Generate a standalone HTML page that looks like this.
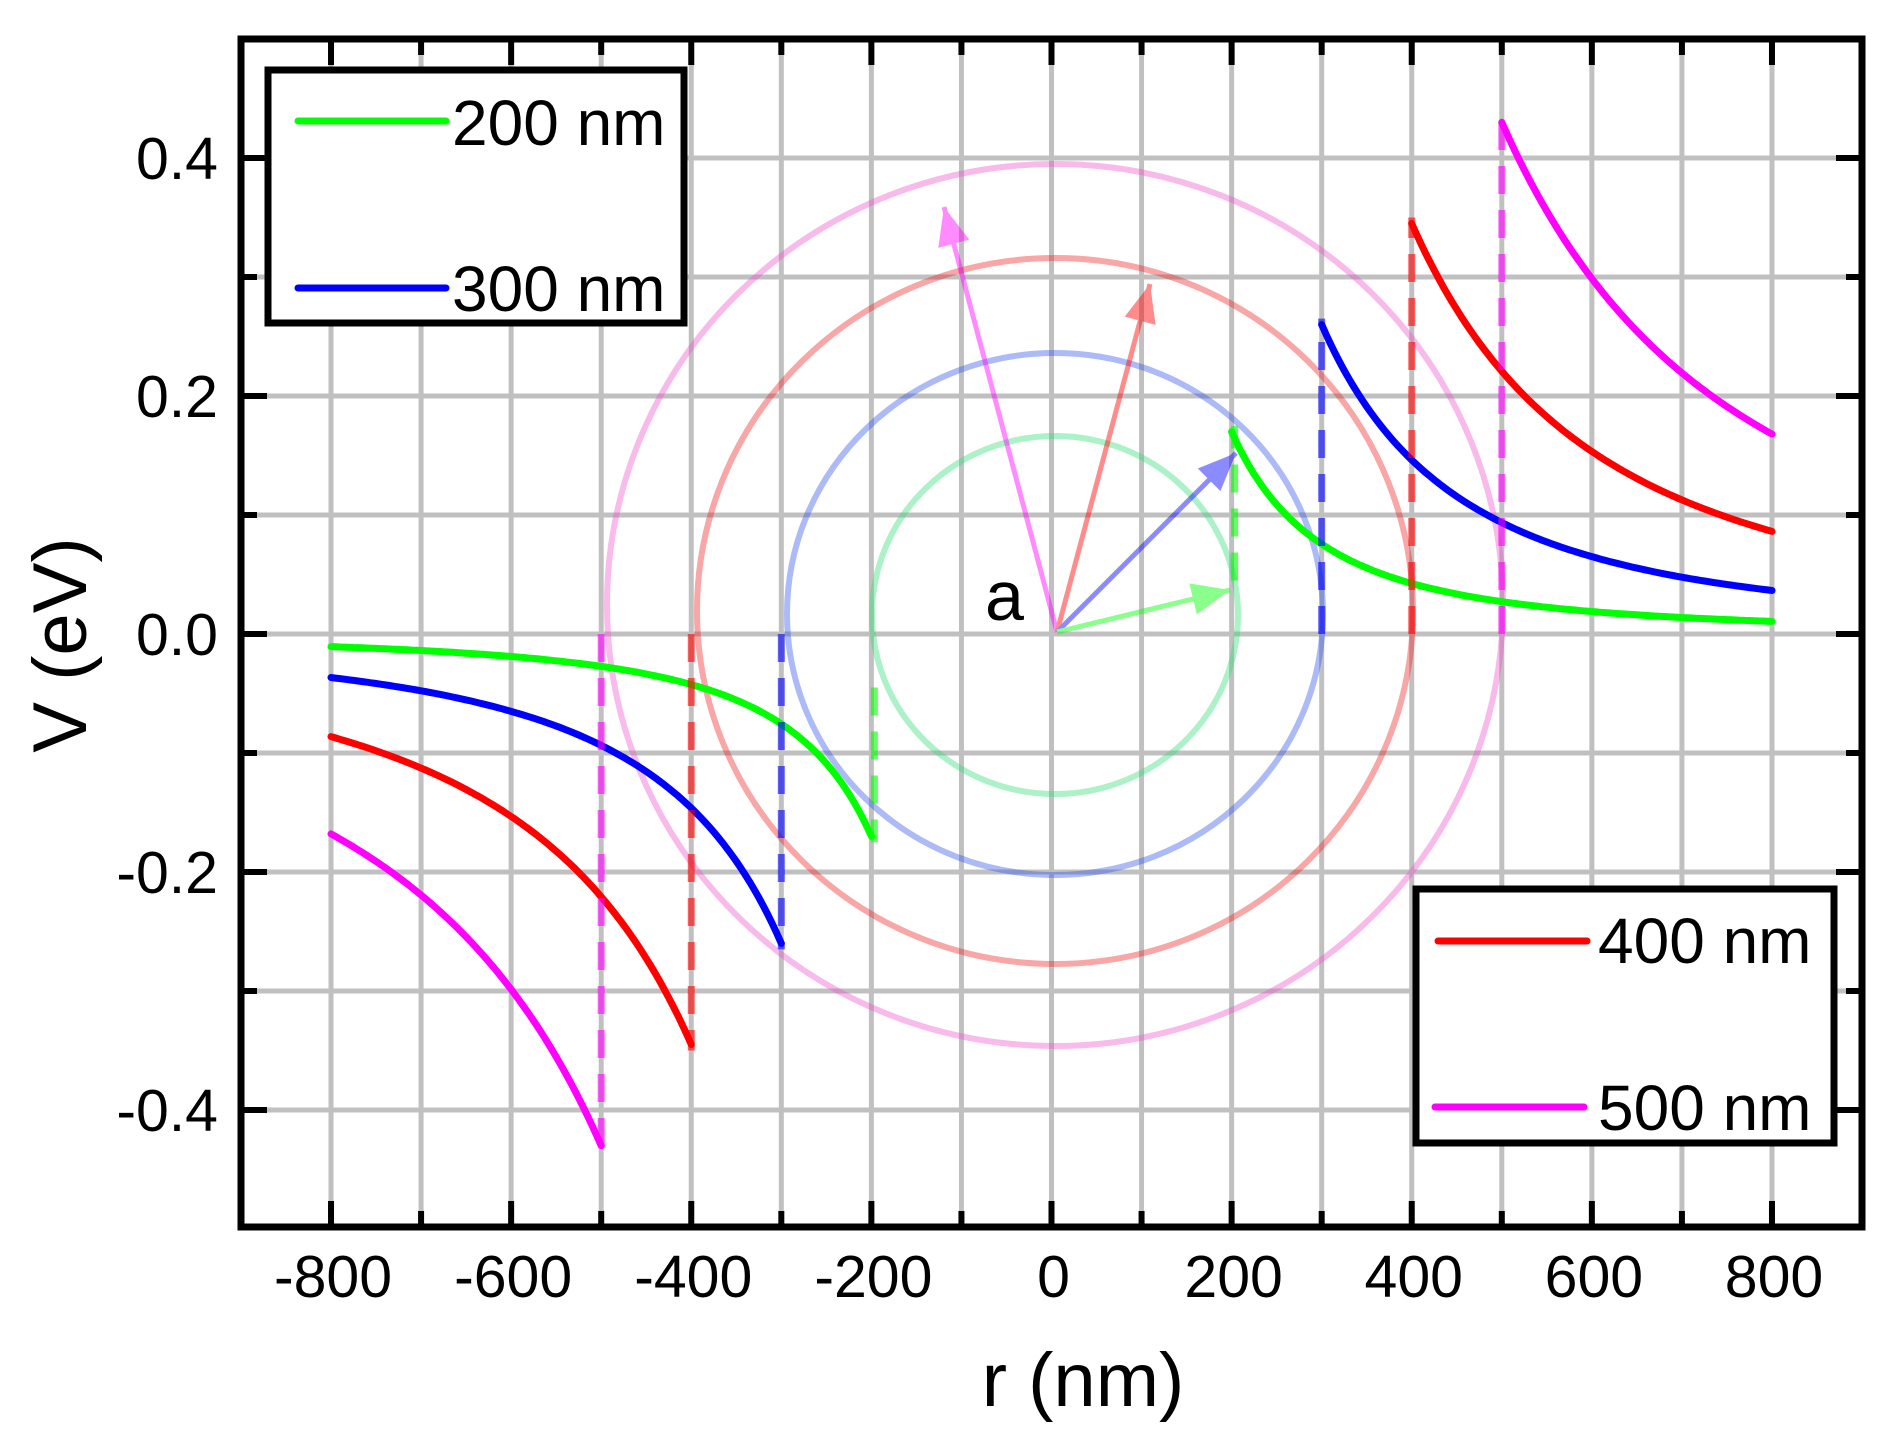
<!DOCTYPE html>
<html><head><meta charset="utf-8"><style>
html,body{margin:0;padding:0;background:#fff;}
svg{display:block;font-family:"Liberation Sans",sans-serif;}
</style></head><body>
<svg id="s" width="1899" height="1443" viewBox="0 0 1899 1443" xmlns="http://www.w3.org/2000/svg">
<rect width="1899" height="1443" fill="#fff"/>
<g id="grid"></g>
<g id="circ" fill="none" stroke-width="6" opacity="0.4">
<ellipse cx="1055" cy="615" rx="183" ry="179" stroke="#33dd77"/>
<ellipse cx="1055" cy="614" rx="268" ry="261" stroke="#3355ee"/>
<ellipse cx="1055" cy="611" rx="358" ry="353" stroke="#ee2222"/>
<ellipse cx="1055" cy="605" rx="448" ry="441" stroke="#ee55cc"/>
</g>
<g id="arrows" stroke-width="5" fill="none" opacity="0.45"></g>
<g id="series"></g>
<text x="985" y="620" font-size="70">a</text>
<g id="axes"></g>
<g id="leg">
<rect x="268" y="70" width="416" height="253" fill="#fff" stroke="#000" stroke-width="7"/>
<line x1="298" y1="121" x2="446" y2="121" stroke="#00ff00" stroke-width="7" stroke-linecap="round"/>
<line x1="298" y1="288" x2="446" y2="288" stroke="#0000ff" stroke-width="7" stroke-linecap="round"/>
<text x="452" y="145" font-size="64">200 nm</text>
<text x="452" y="311" font-size="64">300 nm</text>
<rect x="1416" y="889" width="418" height="254" fill="#fff" stroke="#000" stroke-width="7"/>
<line x1="1438" y1="941" x2="1587" y2="941" stroke="#ff0000" stroke-width="7" stroke-linecap="round"/>
<line x1="1435" y1="1107" x2="1584" y2="1107" stroke="#ff00ff" stroke-width="7" stroke-linecap="round"/>
<text x="1598" y="963" font-size="64">400 nm</text>
<text x="1598" y="1130" font-size="64">500 nm</text>
</g>
<text x="1083" y="1406" font-size="76" text-anchor="middle">r (nm)</text>
<text transform="translate(86,645) rotate(-90)" font-size="76" text-anchor="middle">V (eV)</text>
</svg>
<script>
var NS="http://www.w3.org/2000/svg";
function X(r){return 1051.5+r*0.9006;}
function Y(v){return 634-v*1190;}
function el(p,t,a,txt){var e=document.createElementNS(NS,t);for(var k in a)e.setAttribute(k,a[k]);if(txt)e.textContent=txt;document.getElementById(p).appendChild(e);return e;}
var L=241,R=1862,T=39,B=1227;
for(var r=-800;r<=800;r+=100){el("grid","line",{x1:X(r),y1:T,x2:X(r),y2:B,stroke:"#c0c0c0","stroke-width":5});}
for(var v=-0.4;v<=0.41;v+=0.1){el("grid","line",{x1:L,y1:Y(v),x2:R,y2:Y(v),stroke:"#c0c0c0","stroke-width":5});}
var O=[1057,632];
var arr=[[944,207,"#ff00ff"],[1150,284,"#ff0000"],[1236,453,"#0000ff"],[1230,590,"#00ff00"]];
arr.forEach(function(a){
 el("arrows","line",{x1:O[0],y1:O[1],x2:a[0],y2:a[1],stroke:a[2]});
 var dx=a[0]-O[0],dy=a[1]-O[1],l=Math.hypot(dx,dy);dx/=l;dy/=l;
 var bx=a[0]-dx*38,by=a[1]-dy*38,px=-dy,py=dx;
 el("arrows","polygon",{points:a[0]+","+a[1]+" "+(bx+px*16)+","+(by+py*16)+" "+(bx-px*16)+","+(by-py*16),fill:a[2],stroke:"none"});
});
var S=[[200,6800,"#00ff00"],[300,23400,"#0000ff"],[400,55200,"#ff0000"],[500,107500,"#ff00ff"]];
S.forEach(function(s){
 var a=s[0],k=s[1],c=s[2];
 [1,-1].forEach(function(sg){
  var d="";
  for(var r=a;r<=800;r+=5){d+=(r==a?"M":"L")+X(sg*r).toFixed(1)+","+Y(sg*k/r/r).toFixed(1);}
  el("series","path",{d:d,fill:"none",stroke:c,"stroke-width":7,"stroke-linecap":"round"});
  var top=sg*(k/a/a+0.005), bot=(a==200?sg*0.045:0);
  var xo=(a==200?3:0);
  el("series","line",{x1:X(sg*a)+xo,y1:Y(bot),x2:X(sg*a)+xo,y2:Y(top),stroke:c,"stroke-width":7,"stroke-dasharray":"28,16",opacity:0.6});
 });
});
el("axes","rect",{x:L,y:T,width:R-L,height:B-T,fill:"none",stroke:"#000","stroke-width":7});
for(var r=-800;r<=800;r+=100){var len=(r%200==0)?26:16;
 el("axes","line",{x1:X(r),y1:B,x2:X(r),y2:B-len,stroke:"#000","stroke-width":6});
 el("axes","line",{x1:X(r),y1:T,x2:X(r),y2:T+len,stroke:"#000","stroke-width":6});
 if(r%200==0)el("axes","text",{x:X(r)+2,y:1297,"font-size":59,"text-anchor":"middle"},String(r));}
for(var i=-4;i<=4;i++){var v=i/10,len=(i%2==0)?26:16;
 el("axes","line",{x1:L,y1:Y(v),x2:L+len,y2:Y(v),stroke:"#000","stroke-width":6});
 el("axes","line",{x1:R,y1:Y(v),x2:R-len,y2:Y(v),stroke:"#000","stroke-width":6});
 if(i%2==0)el("axes","text",{x:218,y:Y(v)+21,"font-size":59,"text-anchor":"end"},v.toFixed(1));}
</script>
</body></html>
